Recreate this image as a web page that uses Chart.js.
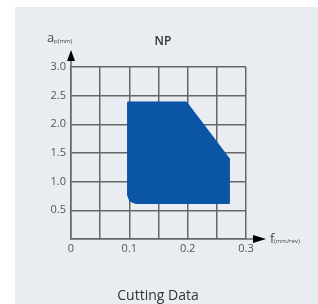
<!DOCTYPE html>
<html>
<head>
<meta charset="utf-8">
<script src="https://cdn.jsdelivr.net/npm/chart.js@4.4.1/dist/chart.umd.min.js"></script>
<style>
  body { margin: 0; background: #fff; }
  canvas { display: block; }
</style>
</head>
<body>
<canvas id="cutting-chart" width="318" height="304"></canvas>
<script>
// feed f (mm/rev) and depth ap (mm) of the NP working area
var feedValues = [0.097, 0.198, 0.271, 0.271, 0.111, 0.101, 0.097, 0.097];
var depthValues = [2.39, 2.39, 1.41, 0.62, 0.62, 0.66, 0.76, 2.39];
var xTickLabels = ['0', '0.1', '0.2', '0.3'];
var yTickLabels = ['0.5', '1.0', '1.5', '2.0', '2.5', '3.0'];
var chartTitle = 'NP';
var caption = 'Cutting Data';

var gridColor = '#666666';
var textColor = '#555555';
var fontFamily = '"Open Sans", "Liberation Sans", sans-serif';

var areaPoints = feedValues.map(function (f, i) {
  return { x: f, y: depthValues[i] };
});

// panel, arrows and axis names
var decorations = {
  id: 'decorations',
  beforeDraw: function (chart) {
    var ctx = chart.ctx;
    ctx.save();
    ctx.fillStyle = '#ffffff';
    ctx.fillRect(0, 0, chart.width, chart.height);
    ctx.fillStyle = '#e9edf1';
    ctx.fillRect(15, 7, chart.width - 15, chart.height - 7);
    ctx.restore();
  },
  afterDraw: function (chart) {
    var ctx = chart.ctx;
    var a = chart.chartArea;
    ctx.save();
    ctx.strokeStyle = gridColor;
    ctx.lineWidth = 1.5;
    ctx.fillStyle = '#000000';

    // y arrow
    ctx.beginPath();
    ctx.moveTo(a.left, a.top);
    ctx.lineTo(a.left, a.top - 6);
    ctx.stroke();
    ctx.beginPath();
    ctx.moveTo(a.left, a.top - 17);
    ctx.lineTo(a.left - 4, a.top - 6);
    ctx.lineTo(a.left + 4, a.top - 6);
    ctx.closePath();
    ctx.fill();

    // x arrow
    ctx.beginPath();
    ctx.moveTo(a.right, a.bottom);
    ctx.lineTo(a.right + 7, a.bottom);
    ctx.stroke();
    ctx.beginPath();
    ctx.moveTo(a.right + 20, a.bottom);
    ctx.lineTo(a.right + 7, a.bottom - 4);
    ctx.lineTo(a.right + 7, a.bottom + 4);
    ctx.closePath();
    ctx.fill();

    // axis names
    ctx.fillStyle = '#444444';
    ctx.textBaseline = 'alphabetic';
    ctx.textAlign = 'left';
    ctx.font = '13px ' + fontFamily;
    ctx.fillText('a', 47, 42);
    ctx.fillText('f', 270, 243);
    ctx.font = '6px ' + fontFamily;
    ctx.fillText('p(mm)', 54, 43);
    ctx.fillText('(mm/rev)', 274, 243);

    // title and caption
    ctx.textAlign = 'center';
    ctx.fillStyle = '#333333';
    ctx.font = '600 12px ' + fontFamily;
    ctx.fillText(chartTitle, 163, 45);
    ctx.font = '14px ' + fontFamily;
    ctx.fillText(caption, 158, 300);
    ctx.restore();
  }
};

function tenthLabel(v) {
  if (Math.abs(v * 10 - Math.round(v * 10)) > 1e-6) return '';
  return String(Math.round(v * 10) / 10);
}

var ctx = document.getElementById('cutting-chart').getContext('2d');
var chart = new Chart(ctx, {
  type: 'scatter',
  data: {
    datasets: [{
      label: chartTitle,
      data: areaPoints,
      showLine: true,
      fill: 'shape',
      backgroundColor: '#0b55a6',
      borderColor: '#0b55a6',
      borderWidth: 1,
      pointRadius: 0,
      tension: 0
    }]
  },
  options: {
    responsive: false,
    animation: false,
    layout: {
      padding: { left: 31, top: 67, right: 72, bottom: 45 }
    },
    scales: {
      x: {
        type: 'linear',
        min: 0,
        max: 0.3,
        afterFit: function (s) { s.height = 20; },
        grid: { color: gridColor, lineWidth: 1.5, drawTicks: false },
        border: { color: gridColor, width: 1.5 },
        ticks: {
          stepSize: 0.05,
          padding: 3,
          color: textColor,
          font: { size: 11, family: fontFamily },
          maxRotation: 0,
          autoSkip: false,
          callback: function (v) {
            var lbl = tenthLabel(v);
            return xTickLabels.indexOf(lbl) >= 0 ? lbl : '';
          }
        }
      },
      y: {
        min: 0,
        max: 3,
        afterFit: function (s) { s.width = 40; },
        grid: { color: gridColor, lineWidth: 1.5, drawTicks: false },
        border: { color: gridColor, width: 1.5 },
        ticks: {
          stepSize: 0.5,
          padding: 5,
          color: textColor,
          font: { size: 11, family: fontFamily },
          callback: function (v) {
            var lbl = Number(v).toFixed(1);
            return yTickLabels.indexOf(lbl) >= 0 ? lbl : '';
          }
        }
      }
    },
    plugins: {
      legend: { display: false },
      tooltip: { enabled: false }
    }
  },
  plugins: [decorations]
});
</script>
</body>
</html>
